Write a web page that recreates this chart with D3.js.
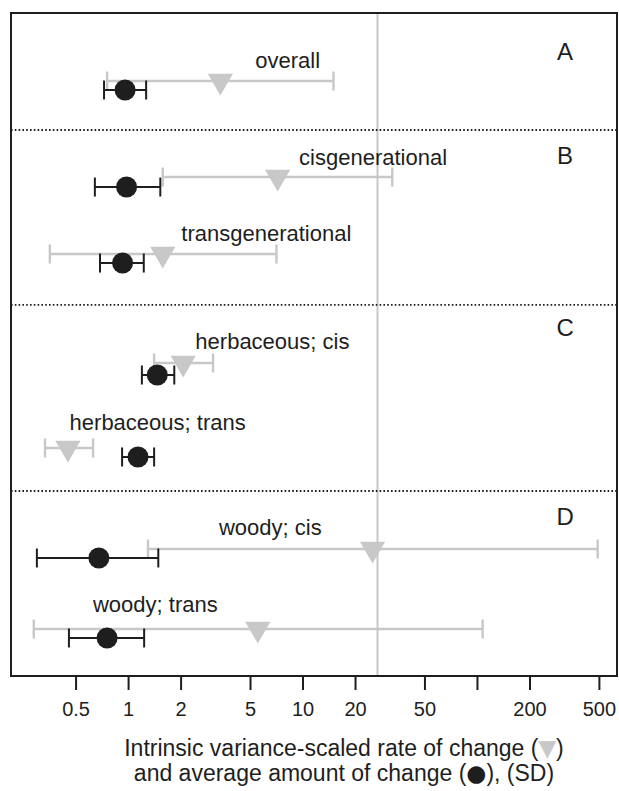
<!DOCTYPE html>
<html>
<head>
<meta charset="utf-8">
<script src="https://cdn.jsdelivr.net/npm/d3@7"></script>
<style>
  html, body { margin: 0; padding: 0; background: #fff; }
  svg { display: block; font-family: "Liberation Sans", Arial, Helvetica, sans-serif; }
</style>
</head>
<body>
<svg id="chart" width="619" height="791"></svg>
<script>
// Groups, one row each
const groups = ["overall", "cisgenerational", "transgenerational",
                "herbaceous; cis", "herbaceous; trans", "woody; cis", "woody; trans"];
// Intrinsic variance-scaled rate of change (grey triangles) with SD interval
const rateMid = [3.38, 7.2, 1.58, 2.07, 0.452, 25.2, 5.54];
const rateLo  = [0.758, 1.58, 0.356, 1.41, 0.334, 1.30, 0.288];
const rateHi  = [15.05, 32.7, 7.09, 3.07, 0.63, 492, 107.8];
// Average amount of change (black circles) with SD interval
const amountMid = [0.961, 0.98, 0.93, 1.47, 1.14, 0.68, 0.758];
const amountLo  = [0.728, 0.645, 0.69, 1.20, 0.924, 0.30, 0.458];
const amountHi  = [1.269, 1.53, 1.23, 1.84, 1.41, 1.49, 1.236];
// Panel letters
const panels = ["A", "B", "C", "D"];
// Axis ticks
const tickValues = [0.5, 1, 2, 5, 10, 20, 50, 100, 200, 500];
const tickLabels = ["0.5", "1", "2", "5", "10", "20", "50", "", "200", "500"];
// Reference value marked with the vertical line
const refValue = 26.9;

// ---- layout (vertical positions in row units, 0..8 spans the frame) ----
const layout = {
  rowRate:   [0.8205, 1.979, 2.908, 4.223, 5.249, 6.468, 7.433],
  rowAmount: [0.929, 2.100, 3.017, 4.368, 5.357, 6.576, 7.541],
  rowLabel:  [0.664, 1.834, 2.751, 4.054, 5.032, 6.299, 7.228],
  labelStartValue: [5.36, 9.56, 2.02, 2.43, 0.462, 3.32, 0.629],
  separators: [1.412, 3.523, 5.768],
  panelLabelRow: [0.573, 1.828, 3.903, 6.184],
  panelLabelValue: 320
};

const svg = d3.select("#chart");
const frame = { left: 11, right: 617, top: 13, bottom: 676 };

const x = d3.scaleLog()
  .domain([0.2132, 635])
  .range([frame.left, frame.right]);
const y = d3.scaleLinear()
  .domain([0, 8])
  .range([frame.top, frame.bottom]);

const grey = "#c8c8c8";
const ink = "#1e1e1e";

// reference line
svg.append("line")
  .attr("x1", x(refValue)).attr("x2", x(refValue))
  .attr("y1", frame.top).attr("y2", frame.bottom)
  .attr("stroke", grey).attr("stroke-width", 2);

// panel separators
svg.selectAll("line.sep").data(layout.separators).join("line")
  .attr("class", "sep")
  .attr("x1", frame.left).attr("x2", frame.right)
  .attr("y1", d => y(d)).attr("y2", d => y(d))
  .attr("stroke", ink).attr("stroke-width", 1.8)
  .attr("stroke-dasharray", "1.6 2.2");

const rows = groups.map((g, i) => ({
  g, i,
  rm: rateMid[i], rl: rateLo[i], rh: rateHi[i],
  am: amountMid[i], al: amountLo[i], ah: amountHi[i]
}));

const capHalf = 9.5;

// grey rate intervals
const rateG = svg.append("g");
rows.forEach(r => {
  const yy = y(layout.rowRate[r.i]);
  rateG.append("line")
    .attr("x1", x(r.rl)).attr("x2", x(r.rh)).attr("y1", yy).attr("y2", yy)
    .attr("stroke", grey).attr("stroke-width", 2.4);
  [r.rl, r.rh].forEach(v => rateG.append("line")
    .attr("x1", x(v)).attr("x2", x(v)).attr("y1", yy - capHalf).attr("y2", yy + capHalf)
    .attr("stroke", grey).attr("stroke-width", 2.4));
});

// grey downward triangles
const tri = d3.symbol().type(d3.symbolTriangle).size(275);
rateG.selectAll("path.tri").data(rows).join("path")
  .attr("class", "tri")
  .attr("d", tri)
  .attr("transform", d => `translate(${x(d.rm)},${y(layout.rowRate[d.i])}) rotate(180)`)
  .attr("fill", grey);

// black amount intervals
const amtG = svg.append("g");
rows.forEach(r => {
  const yy = y(layout.rowAmount[r.i]);
  amtG.append("line")
    .attr("x1", x(r.al)).attr("x2", x(r.ah)).attr("y1", yy).attr("y2", yy)
    .attr("stroke", ink).attr("stroke-width", 2);
  [r.al, r.ah].forEach(v => amtG.append("line")
    .attr("x1", x(v)).attr("x2", x(v)).attr("y1", yy - capHalf).attr("y2", yy + capHalf)
    .attr("stroke", ink).attr("stroke-width", 2));
});
amtG.selectAll("circle").data(rows).join("circle")
  .attr("cx", d => x(d.am))
  .attr("cy", d => y(layout.rowAmount[d.i]))
  .attr("r", 10.5)
  .attr("fill", ink);

// group labels
svg.selectAll("text.grp").data(rows).join("text")
  .attr("class", "grp")
  .attr("x", d => x(layout.labelStartValue[d.i]))
  .attr("y", d => y(layout.rowLabel[d.i]))
  .attr("font-size", 22)
  .attr("fill", ink)
  .text(d => d.g);

// panel letters
svg.selectAll("text.panel").data(panels).join("text")
  .attr("class", "panel")
  .attr("x", x(layout.panelLabelValue))
  .attr("y", (d, i) => y(layout.panelLabelRow[i]))
  .attr("text-anchor", "middle")
  .attr("font-size", 24)
  .attr("fill", ink)
  .text(d => d);

// frame
svg.append("rect")
  .attr("x", frame.left).attr("y", frame.top)
  .attr("width", frame.right - frame.left).attr("height", frame.bottom - frame.top)
  .attr("fill", "none").attr("stroke", ink).attr("stroke-width", 2);

// x axis
const axis = d3.axisBottom(x)
  .tickValues(tickValues)
  .tickFormat((d, i) => tickLabels[i])
  .tickSize(14)
  .tickPadding(12);
const ax = svg.append("g")
  .attr("transform", `translate(0,${frame.bottom})`)
  .call(axis);
ax.select(".domain").remove();
ax.selectAll(".tick line").attr("stroke", ink).attr("stroke-width", 2);
ax.selectAll(".tick text")
  .attr("font-size", 20)
  .attr("font-family", "Liberation Sans, Arial, sans-serif")
  .attr("fill", ink);

// axis title, two lines with the marker symbols inline
const title = svg.append("text")
  .attr("x", 344)
  .attr("text-anchor", "middle")
  .attr("font-size", 23)
  .attr("fill", ink);
const l1 = title.append("tspan").attr("x", 344).attr("y", 756);
l1.append("tspan").text("Intrinsic variance-scaled rate of change (");
l1.append("tspan").attr("fill", grey).attr("font-family", "DejaVu Sans").text("▼");
l1.append("tspan").text(")");
const l2 = title.append("tspan").attr("x", 344).attr("y", 781);
l2.append("tspan").text("and average amount of change (");
l2.append("tspan").attr("font-family", "DejaVu Sans").text("●");
l2.append("tspan").text("), (SD)");
</script>
</body>
</html>
